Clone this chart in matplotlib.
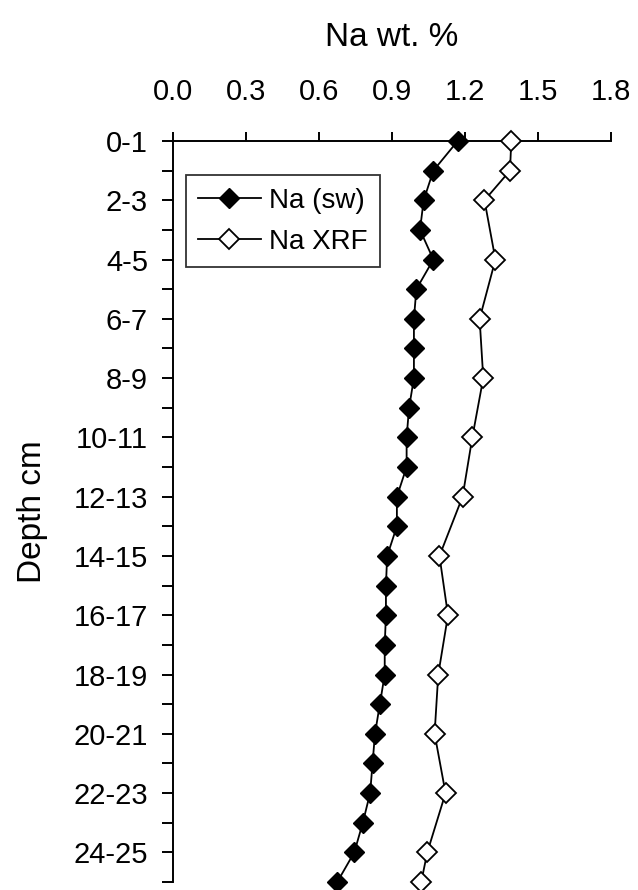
import numpy as np
import matplotlib
matplotlib.use("Agg")
import matplotlib.pyplot as plt

plt.rcParams['font.family'] = ['Liberation Sans', 'DejaVu Sans']

# depth intervals (cm), top to bottom
depth_labels = ['0-1', '1-2', '2-3', '3-4', '4-5', '5-6', '6-7', '7-8', '8-9', '9-10',
                '10-11', '11-12', '12-13', '13-14', '14-15', '15-16', '16-17', '17-18',
                '18-19', '19-20', '20-21', '21-22', '22-23', '23-24', '24-25', '25-26']

# Na wt. % from seawater calc
na_sw = [1.17, 1.07, 1.03, 1.015, 1.07, 1.00, 0.99, 0.99, 0.99, 0.97,
         0.96, 0.96, 0.92, 0.92, 0.88, 0.875, 0.875, 0.87, 0.87, 0.85,
         0.83, 0.82, 0.81, 0.78, 0.745, 0.675]

# Na wt. % by XRF (not every interval measured)
na_xrf = [1.39, 1.385, 1.28, None, 1.325, None, 1.26, None, 1.275, None,
          1.23, None, 1.19, None, 1.095, None, 1.13, None, 1.09, None,
          1.075, None, 1.12, None, 1.045, 1.02]

x_ticks = [0.0, 0.3, 0.6, 0.9, 1.2, 1.5, 1.8]

depth = np.arange(len(depth_labels))
xrf = np.array([np.nan if v is None else v for v in na_xrf])
has_xrf = ~np.isnan(xrf)

fig = plt.figure(figsize=(6.38, 8.9), dpi=100)
ax = fig.add_axes([0.2712, 0.0090, 0.6865, 0.8326])

ax.plot(na_sw, depth, color='black', lw=1.3, marker='D', ms=10.5,
        mfc='black', mec='black', mew=1.0, label='Na (sw)', clip_on=False, zorder=3)
ax.plot(xrf[has_xrf], depth[has_xrf], color='black', lw=1.3, marker='D', ms=10.5,
        mfc='white', mec='black', mew=1.3, label='Na XRF', clip_on=False, zorder=3)

ax.set_xlim(0, 1.8)
ax.set_ylim(len(depth_labels) - 1, 0)

ax.xaxis.tick_top()
ax.xaxis.set_label_position('top')
ax.set_xticks(x_ticks)
ax.set_xticklabels([f"{t:.1f}" for t in x_ticks])
ax.set_yticks(depth)
ax.set_yticklabels([lab if i % 2 == 0 else '' for i, lab in enumerate(depth_labels)])

ax.tick_params(axis='x', direction='out', length=6.5, width=1.4, pad=19, labelsize=21)
ax.tick_params(axis='y', direction='out', length=8, width=1.4, pad=10, labelsize=21)

for side in ['right', 'bottom']:
    ax.spines[side].set_visible(False)
for side in ['top', 'left']:
    ax.spines[side].set_linewidth(1.4)

ax.set_xlabel('Na wt. %', fontsize=24, labelpad=23)
ax.set_ylabel('Depth cm', fontsize=24, labelpad=18)

leg = ax.legend(loc='upper left', bbox_to_anchor=(0.029, 0.954), borderaxespad=0,
                fontsize=20, frameon=True, fancybox=False, shadow=False,
                handlelength=2.25, handletextpad=0.3, labelspacing=0.55,
                borderpad=0.45, numpoints=1)
leg.get_frame().set_edgecolor('black')
leg.get_frame().set_linewidth(1.3)

fig.savefig('out.png', dpi=100)
